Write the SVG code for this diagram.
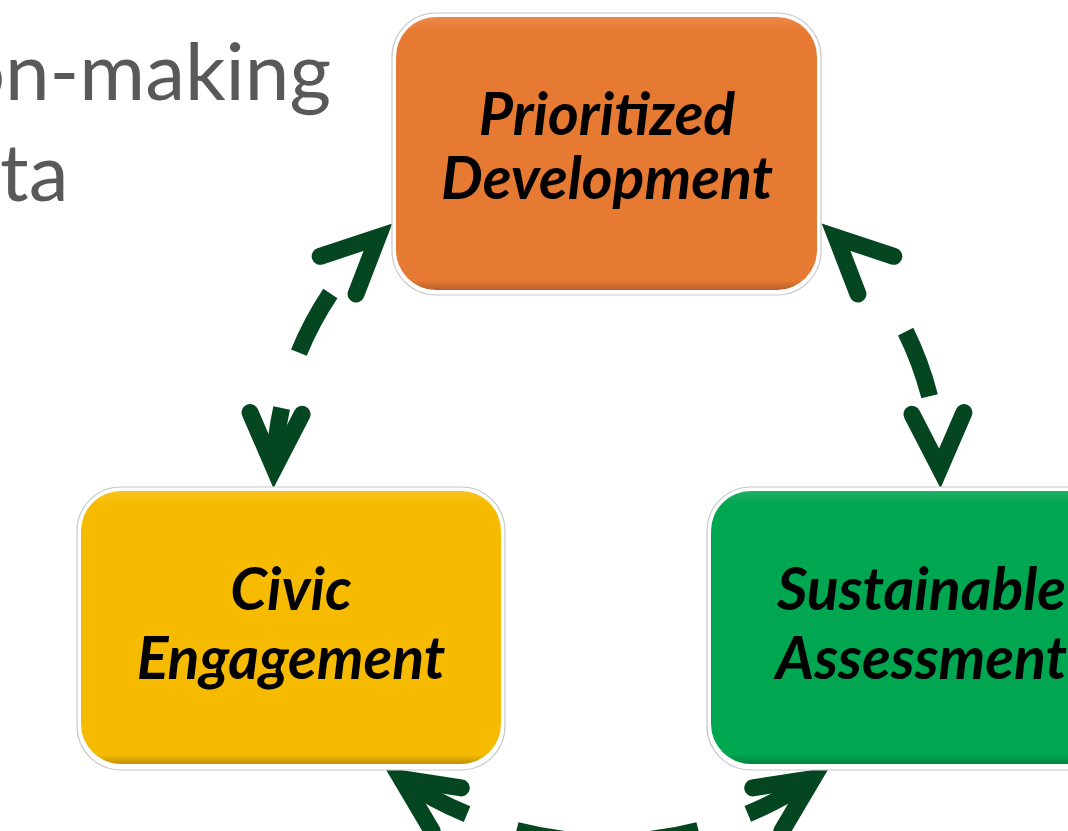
<svg xmlns="http://www.w3.org/2000/svg" width="1068" height="831" viewBox="0 0 1068 831">
<style>
.frame{fill:#ffffff;stroke:#c9c9c9;stroke-width:1.2}
.label{font-family:Lato,"Open Sans","Liberation Sans",sans-serif;font-weight:bold;font-style:italic;font-size:59px;fill:#000000;text-anchor:middle}
.title{font-family:Lato,"Open Sans","Liberation Sans",sans-serif;font-size:80px;fill:#595959}
.conn{fill:none;stroke:#04461f;stroke-width:17;stroke-linecap:butt}
</style>
<defs>
<linearGradient id="bevel" x1="0" y1="0" x2="0" y2="1">
<stop offset="0" stop-color="#ffffff" stop-opacity="0.12"/>
<stop offset="0.05" stop-color="#ffffff" stop-opacity="0"/>
<stop offset="0.965" stop-color="#000000" stop-opacity="0"/>
<stop offset="1" stop-color="#000000" stop-opacity="0.22"/>
</linearGradient>
<marker id="head" markerUnits="userSpaceOnUse" orient="auto-start-reverse" refX="0" refY="0" markerWidth="200" markerHeight="200" overflow="visible">
<path d="M -54 -26 L 1 0 L -54 26" fill="none" stroke="#04461f" stroke-width="17" stroke-linecap="round" stroke-linejoin="miter" stroke-miterlimit="6"/>
</marker>
</defs>

<g id="title-text">
<text class="title" x="331" y="100" text-anchor="end">on-making</text>
<text class="title" x="0" y="201">ta</text>
</g>

<g id="connectors">
<path class="conn" d="M 274.2 467.4 A 333 333 0 0 1 377.2 237.9" stroke-dasharray="60 58 67 400" marker-start="url(#head)" marker-end="url(#head)"/>
<path class="conn" d="M 939.8 467.4 A 333 333 0 0 0 836.8 237.9" stroke-dasharray="0 72 69 400" marker-start="url(#head)" marker-end="url(#head)"/>
<path class="conn" d="M 402 779.2 A 366 366 0 0 0 812 779.2" stroke-dasharray="74 52 66 52 66 52 74 50" marker-start="url(#head)" marker-end="url(#head)"/>
</g>

<g id="node-prioritized">
<rect class="frame" x="392" y="13" width="429" height="282" rx="44"/>
<rect x="396" y="17" width="421" height="273" rx="40" fill="#e77a33"/>
<rect x="396" y="17" width="421" height="273" rx="40" fill="url(#bevel)"/>
<text class="label" x="607" y="135">Prioritized</text>
<text class="label" x="607" y="199">Development</text>
</g>

<g id="node-civic">
<rect class="frame" x="77" y="487" width="428" height="283" rx="44"/>
<rect x="81" y="491" width="420" height="273" rx="40" fill="#f6bb00"/>
<rect x="81" y="491" width="420" height="273" rx="40" fill="url(#bevel)"/>
<text class="label" x="291" y="610">Civic</text>
<text class="label" x="291" y="679">Engagement</text>
</g>

<g id="node-sustainable">
<rect class="frame" x="707" y="487" width="429" height="283" rx="44"/>
<rect x="711" y="491" width="421" height="273" rx="40" fill="#00a650"/>
<rect x="711" y="491" width="421" height="273" rx="40" fill="url(#bevel)"/>
<text class="label" x="921.5" y="610">Sustainable</text>
<text class="label" x="921.5" y="679">Assessment</text>
</g>
</svg>
